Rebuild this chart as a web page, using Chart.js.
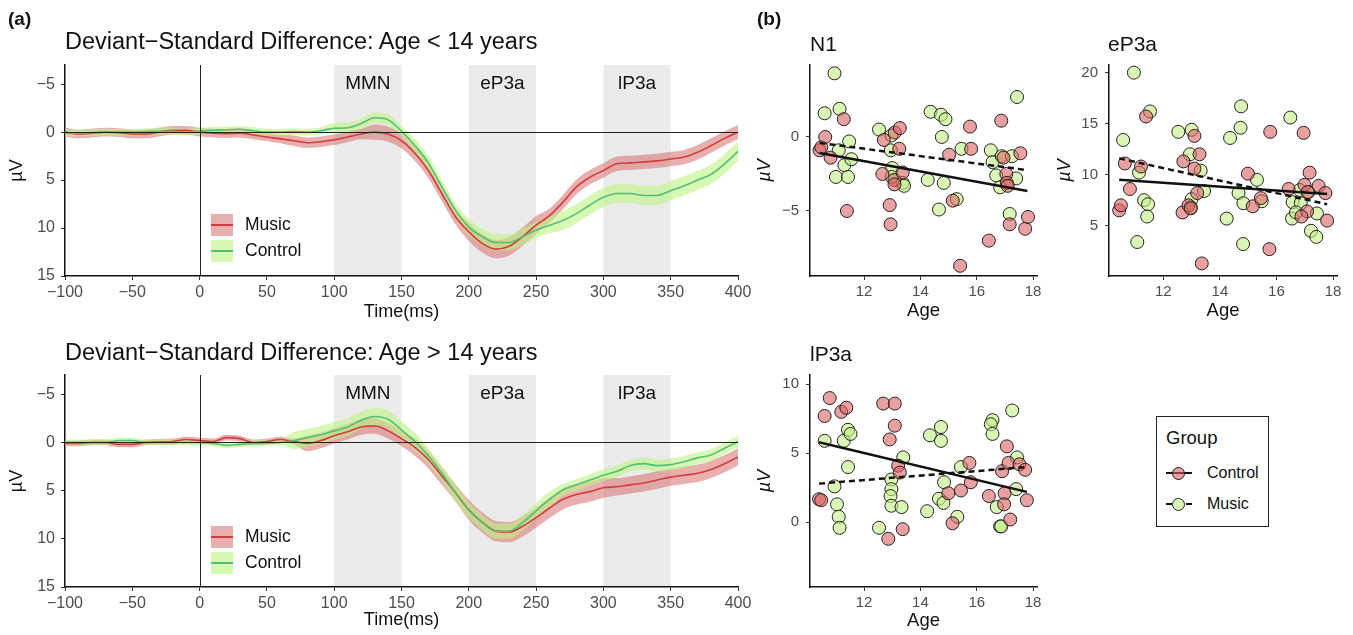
<!DOCTYPE html>
<html>
<head>
<meta charset="utf-8">
<script src="https://cdn.jsdelivr.net/npm/chart.js@4.4.1/dist/chart.umd.min.js"></script>
<style>
  body { margin: 0; background: #fff; font-family: "Liberation Sans", Arial, sans-serif; }
  #wrap { position: relative; width: 1353px; height: 635px; overflow: hidden; }
  canvas { position: absolute; }
  .txt { position: absolute; white-space: nowrap; color: #111; line-height: 1; }
  .key { position: absolute; width: 22px; height: 22px; }
  .key div { position: absolute; left: 0; top: 10px; width: 22px; height: 1.6px; }
  #groupBox { position: absolute; left: 1156px; top: 416px; width: 113px; height: 111px;
              box-sizing: border-box; border: 1.5px solid #222; }
  .gline { position: absolute; width: 26px; height: 0; }
  .gdot { position: absolute; width: 11px; height: 11px; border-radius: 50%; border: 1px solid #222; }
</style>
</head>
<body>
<div id="wrap">
  <canvas id="erpYoung" width="760" height="330" style="left:0;top:0"></canvas>
  <canvas id="erpOld" width="760" height="305" style="left:0;top:330px"></canvas>
  <canvas id="n1" width="304" height="330" style="left:756px;top:0"></canvas>
  <canvas id="ep3a" width="297" height="330" style="left:1056px;top:0"></canvas>
  <canvas id="lp3a" width="304" height="305" style="left:756px;top:330px"></canvas>

  <div class="txt" style="left:8px;top:9px;font-size:19px;font-weight:bold">(a)</div>
  <div class="txt" style="left:757px;top:9px;font-size:19px;font-weight:bold">(b)</div>
  <div class="txt" style="left:65px;top:30px;font-size:23.5px">Deviant&minus;Standard Difference: Age &lt; 14 years</div>
  <div class="txt" style="left:65px;top:341px;font-size:23.5px">Deviant&minus;Standard Difference: Age &gt; 14 years</div>
  <div class="txt" style="left:810px;top:33px;font-size:21px">N1</div>
  <div class="txt" style="left:1108px;top:33px;font-size:21px">eP3a</div>
  <div class="txt" style="left:810px;top:343px;font-size:21px">lP3a</div>

  <div class="key" style="left:211px;top:214px;background:rgba(214,110,110,0.55)"><div style="background:#d23c3c"></div></div>
  <div class="key" style="left:211px;top:240px;background:rgba(190,245,130,0.6)"><div style="background:#4fbf7a"></div></div>
  <div class="txt" style="left:245px;top:216px;font-size:17.5px">Music</div>
  <div class="txt" style="left:245px;top:242px;font-size:17.5px">Control</div>
  <div class="key" style="left:211px;top:526px;background:rgba(214,110,110,0.55)"><div style="background:#d23c3c"></div></div>
  <div class="key" style="left:211px;top:552px;background:rgba(190,245,130,0.6)"><div style="background:#4fbf7a"></div></div>
  <div class="txt" style="left:245px;top:528px;font-size:17.5px">Music</div>
  <div class="txt" style="left:245px;top:554px;font-size:17.5px">Control</div>

  <div id="groupBox">
    <div class="txt" style="left:9px;top:12px;font-size:18.5px">Group</div>
    <div class="gline" style="left:9px;top:55px;border-top:2px solid #111"></div>
    <div class="gdot" style="left:15px;top:50px;background:rgba(217,97,97,0.6)"></div>
    <div class="txt" style="left:50px;top:48px;font-size:16px">Control</div>
    <div class="gline" style="left:9px;top:86px;border-top:2px dashed #111"></div>
    <div class="gdot" style="left:15px;top:81px;background:#dcf6bc"></div>
    <div class="txt" style="left:50px;top:79px;font-size:16px">Music</div>
  </div>
</div>
<script>
// ERP waveforms (µV), sampled every 10 ms
const time = [-100, -90, -80, -70, -60, -50, -40, -30, -20, -10, 0, 10, 20, 30, 40, 50, 60, 70, 80, 90,
  100, 110, 120, 130, 140, 150, 160, 170, 180, 190, 200, 210, 220, 230, 240, 250, 260, 270, 280, 290,
  300, 310, 320, 330, 340, 350, 360, 370, 380, 390, 400];

const musicYoung = [0.0, 0.2, 0.1, 0.0, 0.05, 0.2, 0.2, 0.0, -0.2, -0.2, 0.0, 0.1, 0.15, 0.1, 0.3, 0.5, 0.7, 0.9, 1.1, 1.0,
  0.8, 0.5, 0.2, 0.0, 0.2, 0.9, 2.2, 4.0, 6.4, 8.8, 10.4, 11.6, 12.2, 11.9, 10.9, 9.7, 8.7, 7.3, 5.7, 4.7,
  4.0, 3.3, 3.2, 3.1, 3.0, 2.8, 2.6, 2.1, 1.4, 0.65, 0.0];
const controlYoung = [0.1, 0.1, 0.05, 0.0, 0.0, 0.0, -0.05, -0.1, -0.1, 0.0, -0.1, -0.2, -0.25, -0.3, -0.15, 0.0, 0.0, -0.05, 0.0, -0.15,
  -0.4, -0.45, -0.9, -1.5, -1.3, -0.1, 1.4, 3.2, 5.7, 8.1, 9.9, 10.9, 11.5, 11.5, 10.9, 10.2, 9.7, 9.2, 8.5, 7.6,
  6.8, 6.4, 6.4, 6.6, 6.6, 6.1, 5.6, 5.0, 4.4, 3.3, 2.0];
const musicYoungSe = [0.45, 0.45, 0.45, 0.45, 0.45, 0.45, 0.45, 0.45, 0.45, 0.45, 0.45, 0.45, 0.45, 0.45, 0.45, 0.45, 0.45,
  0.55, 0.55, 0.55, 0.55, 0.55, 0.55, 0.8, 0.8, 0.8, 0.8, 0.8, 0.8, 0.8, 0.95, 0.95, 0.95, 0.95, 0.95, 0.95,
  0.75, 0.75, 0.75, 0.75, 0.75, 0.75, 0.75, 0.75, 0.75, 0.75, 0.75, 0.75, 0.75, 0.75, 0.75];
const controlYoungSe = [0.35, 0.35, 0.35, 0.35, 0.35, 0.35, 0.35, 0.35, 0.35, 0.35, 0.35, 0.35, 0.35, 0.35, 0.35, 0.35, 0.35, 0.35, 0.35, 0.35,
  0.55, 0.55, 0.55, 0.55, 0.55, 0.55, 0.7, 0.7, 0.7, 0.7, 0.85, 0.85, 0.85, 0.85, 0.85, 0.85, 0.85,
  1.0, 1.0, 1.0, 1.0, 1.0, 1.0, 1.0, 1.0, 1.0, 1.0, 1.0, 1.0, 1.0, 1.0];

const musicOld = [0.1, 0.1, 0.0, 0.0, 0.2, 0.2, 0.0, -0.05, -0.1, -0.3, -0.2, -0.1, -0.5, -0.4, 0.0, -0.1, -0.3, -0.1, 0.1, -0.2,
  -0.7, -1.1, -1.6, -1.7, -1.2, -0.4, 0.5, 1.8, 3.5, 5.2, 7.0, 8.3, 9.2, 9.3, 8.7, 7.8, 6.8, 5.9, 5.4, 5.1,
  4.7, 4.6, 4.4, 4.2, 3.9, 3.6, 3.4, 3.2, 2.8, 2.2, 1.5];
const controlOld = [0.0, 0.0, 0.0, 0.0, -0.2, -0.2, 0.0, 0.0, 0.0, 0.0, 0.0, 0.1, 0.3, 0.2, 0.1, 0.05, 0.0, -0.2, -0.5, -0.8,
  -1.2, -1.6, -2.3, -2.7, -2.4, -1.3, -0.1, 1.4, 3.2, 5.2, 7.0, 8.3, 9.2, 9.2, 8.3, 7.1, 5.9, 4.9, 4.4, 3.9,
  3.4, 3.0, 2.4, 2.2, 2.4, 2.3, 2.0, 1.6, 1.3, 0.6, -0.1];
const musicOldSe = [0.3, 0.3, 0.3, 0.3, 0.3, 0.3, 0.3, 0.3, 0.3, 0.3, 0.3, 0.3, 0.3, 0.3, 0.3, 0.3, 0.3, 0.3,
  0.8, 0.8, 0.8, 0.8, 0.8, 0.8, 0.8, 0.8, 0.9, 0.9, 0.9, 0.9,
  1.05, 1.05, 1.05, 1.05, 1.05, 1.05, 1.05, 1.05, 1.05, 1.05, 1.05,
  0.9, 0.9, 0.9, 0.9, 0.9, 0.9, 0.9, 0.9, 0.9, 0.9];
const controlOldSe = [0.3, 0.3, 0.3, 0.3, 0.3, 0.3, 0.3, 0.3, 0.3, 0.3, 0.3, 0.3, 0.3, 0.3, 0.3, 0.3, 0.3,
  0.9, 0.9, 0.9, 0.9, 0.9, 0.9, 0.9, 0.9, 0.9, 0.9, 0.8, 0.8, 0.8, 0.8, 0.8, 0.8, 0.8, 0.8, 0.8, 0.8,
  0.6, 0.6, 0.6, 0.6, 0.6, 0.6, 0.6, 0.6, 0.6, 0.6, 0.6, 0.6, 0.6, 0.6];

// component windows (ms)
const windowStart = [100, 200, 300];
const windowEnd = [150, 250, 350];
const windowLabel = ['MMN', 'eP3a', 'lP3a'];

// (b) amplitude vs age
const n1ControlAge = [10.42, 10.48, 10.62, 10.81, 11.28, 11.39, 12.7, 12.65, 13.09, 13.27, 13.25, 13.08, 13.08, 13.37, 12.91, 12.94,
  15.15, 15.02, 15.8, 15.76, 15.41, 16.43, 16.87, 16.95, 17.05, 17.07, 17.1, 17.17, 17.55, 17.72, 17.82];
const n1ControlVal = [-0.9, -0.7, 0.0, -1.4, 1.2, -5.0, -0.2, -2.5, 0.3, 0.6, -0.8, -2.9, -3.2, -2.4, -4.6, -5.9,
  -4.3, -1.2, -0.8, 0.7, -8.7, -7.0, 1.1, -1.4, -2.5, -3.1, -3.3, -5.9, -1.1, -6.2, -5.4];
const n1MusicAge = [10.95, 10.6, 11.13, 11.1, 11.47, 11.0, 11.3, 11.55, 11.43, 12.53, 12.97, 12.95, 13.0, 12.98, 13.37, 13.42,
  14.26, 14.36, 14.73, 14.89, 14.76, 14.83, 14.66, 15.29, 15.46, 16.5, 16.56, 16.69, 16.89, 16.83, 17.25, 17.4, 17.17, 17.43];
const n1MusicVal = [4.3, 1.6, 1.9, -0.9, -0.3, -2.7, -1.9, -1.5, -2.7, 0.5, 0.1, -0.9, -2.1, -2.7, -3.1, -3.3,
  -2.9, 1.7, 1.5, 1.2, 0.0, -3.1, -4.9, -4.2, -0.8, -0.9, -1.7, -2.6, -1.3, -3.4, -1.3, -2.8, -5.2, 2.7];
const n1FitAge = [10.42, 17.8];
const n1ControlFit = [-1.08, -3.65];
const n1MusicFit = [-0.4, -2.24];

const ep3aControlAge = [10.44, 10.5, 10.64, 10.82, 11.21, 11.39, 12.71, 12.68, 12.89, 12.97, 13.1, 13.1, 13.28, 13.2, 13.36,
  14.99, 15.16, 15.45, 15.78, 15.75, 16.43, 16.96, 16.99, 17.17, 17.08, 16.88, 17.49, 17.73, 17.79, 17.1];
const ep3aControlVal = [6.5, 7.0, 11.1, 8.6, 10.8, 15.7, 11.3, 6.3, 7.0, 6.7, 13.8, 10.6, 12.0, 8.2, 1.3,
  10.1, 6.9, 7.7, 14.2, 2.7, 8.6, 14.1, 9.0, 10.2, 6.4, 5.9, 8.9, 8.2, 5.5, 8.3];
const ep3aMusicAge = [10.96, 10.58, 11.14, 11.08, 11.32, 11.46, 11.43, 11.53, 12.53, 13.0, 12.94, 13.0, 12.97, 13.32, 13.44,
  14.36, 14.24, 14.73, 14.75, 14.66, 14.83, 14.82, 15.31, 15.48, 16.49, 16.57, 16.55, 16.82, 16.86, 17.22, 17.41, 17.43, 17.13, 16.69];
const ep3aMusicVal = [20.0, 13.4, 10.2, 3.4, 7.5, 7.1, 5.9, 16.2, 14.2, 14.4, 12.0, 7.6, 6.8, 10.4, 8.4,
  13.6, 5.7, 14.6, 16.7, 8.2, 7.2, 3.2, 9.5, 7.4, 15.6, 7.3, 5.7, 8.5, 7.2, 4.5, 3.9, 6.2, 8.3, 6.3];
const ep3aFitAge = [10.44, 17.79];
const ep3aControlFit = [9.5, 8.1];
const ep3aMusicFit = [11.6, 7.1];

const lp3aControlAge = [10.4, 10.48, 10.6, 10.78, 11.19, 11.37, 12.68, 13.09, 13.09, 12.91, 12.86, 13.21, 13.27, 13.37,
  14.99, 15.14, 15.44, 15.74, 15.79, 16.43, 16.9, 16.99, 16.97, 17.07, 17.19, 17.13, 17.52, 17.72, 17.78];
const lp3aControlVal = [1.67, 1.6, 7.7, 9.0, 8.0, 8.3, 8.6, 8.6, 7.0, 6.0, -1.2, 4.1, 3.6, -0.5,
  2.1, -0.07, 2.3, 4.3, 2.9, 1.9, 3.7, 2.1, 1.3, 5.5, 0.2, 4.3, 4.2, 3.8, 1.6];
const lp3aMusicAge = [10.6, 10.95, 11.04, 11.1, 11.13, 11.28, 11.43, 11.52, 11.43, 12.53, 12.97, 12.97, 12.94, 12.97, 13.33,
  13.39, 14.24, 14.34, 14.73, 14.73, 14.84, 14.66, 14.82, 15.31, 15.44, 16.56, 16.5, 16.56, 16.71, 16.83, 16.87, 17.26, 17.43, 17.4];
const lp3aMusicVal = [5.9, 2.6, 1.3, 0.4, -0.4, 5.9, 6.7, 6.4, 4.0, -0.4, 3.1, 2.4, 1.9, 1.2, 1.1,
  4.7, 0.8, 6.3, 6.9, 5.9, 2.9, 1.7, 1.4, 0.4, 4.0, 7.4, 7.1, 6.4, 1.1, -0.3, -0.3, 8.1, 4.7, 2.4];
const lp3aFitAge = [10.4, 17.78];
const lp3aControlFit = [5.8, 2.2];
const lp3aMusicFit = [2.8, 4.0];

Chart.defaults.font.family = '"Liberation Sans", Arial, sans-serif';

const MUSIC_LINE = '#d23c3c', MUSIC_BAND = 'rgba(214,110,110,0.55)';
const CONTROL_LINE = '#4fbf7a', CONTROL_BAND = 'rgba(190,245,130,0.6)';
const TICK = '#4d4d4d';

function minusSign(v) {
  return String(v).replace('-', '\u2212');
}

// grey windows, labels and the zero lines
const erpDecor = {
  id: 'erpDecor',
  beforeDatasetsDraw(chart) {
    const { ctx, chartArea: a, scales: { x } } = chart;
    ctx.save();
    ctx.font = '19px "Liberation Sans", Arial, sans-serif';
    ctx.textAlign = 'center';
    ctx.textBaseline = 'middle';
    windowStart.forEach((s, i) => {
      const x0 = x.getPixelForValue(s), x1 = x.getPixelForValue(windowEnd[i]);
      ctx.fillStyle = '#ebebeb';
      ctx.fillRect(x0, a.top, x1 - x0, a.bottom - a.top - 1);
      ctx.fillStyle = '#111';
      ctx.fillText(windowLabel[i], (x0 + x1) / 2, a.top + 19);
    });
    ctx.restore();
  },
  afterDatasetsDraw(chart) {
    const { ctx, chartArea: a, scales: { x, y } } = chart;
    const y0 = Math.round(y.getPixelForValue(0)) + 0.5;
    const x0 = Math.round(x.getPixelForValue(0)) + 0.5;
    ctx.save();
    ctx.strokeStyle = '#222';
    ctx.lineWidth = 1;
    ctx.beginPath();
    ctx.moveTo(a.left, y0); ctx.lineTo(a.right, y0);
    ctx.moveTo(x0, a.top); ctx.lineTo(x0, a.bottom);
    ctx.stroke();
    ctx.restore();
  }
};

function axisStyle(fontSize, pad) {
  return {
    ticks: { color: TICK, font: { size: fontSize }, padding: pad, includeBounds: false },
    grid: { drawOnChartArea: false, drawTicks: true, tickLength: 4, color: '#333' },
    border: { display: true, color: '#111', width: 1.5 }
  };
}

function erpChart(id, music, musicSe, control, controlSe, padTop, axisH, titlePad) {
  const pts = (vals, se, k) => time.map((t, i) => ({ x: t, y: vals[i] + k * se[i] }));
  const xs = axisStyle(16, 3), ys = axisStyle(16, 6);
  new Chart(document.getElementById(id), {
    type: 'line',
    data: {
      datasets: [
        { data: pts(control, controlSe, 0), borderColor: CONTROL_LINE, borderWidth: 1.6 },
        { data: pts(music, musicSe, 0), borderColor: MUSIC_LINE, borderWidth: 1.6 },
        { data: pts(control, controlSe, 1), borderColor: 'transparent', backgroundColor: CONTROL_BAND, fill: '+1' },
        { data: pts(control, controlSe, -1), borderColor: 'transparent' },
        { data: pts(music, musicSe, 1), borderColor: 'transparent', backgroundColor: MUSIC_BAND, fill: '+1' },
        { data: pts(music, musicSe, -1), borderColor: 'transparent' }
      ]
    },
    options: {
      responsive: false,
      animation: false,
      layout: { padding: { top: padTop, right: 22, left: 0, bottom: 0 } },
      elements: { point: { radius: 0 }, line: { cubicInterpolationMode: 'monotone', fill: false } },
      plugins: { legend: { display: false }, tooltip: { enabled: false } },
      scales: {
        x: {
          type: 'linear', min: -100, max: 400,
          ...xs,
          ticks: { ...xs.ticks, stepSize: 50, callback: minusSign },
          title: { display: true, text: 'Time(ms)', color: '#111', font: { size: 18, lineHeight: 1 },
                   padding: { top: 0, bottom: titlePad } },
          afterFit: s => { s.height = axisH; }
        },
        y: {
          type: 'linear', reverse: true, min: -7, max: 15,
          ...ys,
          ticks: { ...ys.ticks, stepSize: 5, callback: minusSign },
          title: { display: true, text: '\u00b5V', color: '#111', font: { size: 18, lineHeight: 1 },
                   padding: { top: 8.5, bottom: 0 } },
          afterFit: s => { s.width = 65; }
        }
      }
    },
    plugins: [erpDecor]
  });
}

function scatterChart(id, c) {
  const pts = (ages, vals) => ages.map((a, i) => ({ x: a, y: vals[i] }));
  const xs = axisStyle(15, 3), ys = axisStyle(15, 7);
  new Chart(document.getElementById(id), {
    type: 'scatter',
    data: {
      datasets: [
        { data: pts(c.fitAge, c.controlFit), showLine: true, pointRadius: 0, borderColor: '#111', borderWidth: 2.5 },
        { data: pts(c.fitAge, c.musicFit), showLine: true, pointRadius: 0, borderColor: '#111', borderWidth: 2.5,
          borderDash: [6, 4] },
        { data: pts(c.controlAge, c.controlVal), pointRadius: 6.5, borderWidth: 1, borderColor: '#222',
          backgroundColor: 'rgba(217,97,97,0.6)' },
        { data: pts(c.musicAge, c.musicVal), pointRadius: 6.5, borderWidth: 1, borderColor: '#222',
          backgroundColor: 'rgba(193,242,132,0.6)' }
      ]
    },
    options: {
      responsive: false,
      animation: false,
      layout: { padding: { top: c.padTop, right: c.padRight, left: 0, bottom: 0 } },
      plugins: { legend: { display: false }, tooltip: { enabled: false } },
      scales: {
        x: {
          type: 'linear', min: 10.08, max: 18.14,
          ...xs,
          ticks: { ...xs.ticks, stepSize: 2 },
          title: { display: true, text: 'Age', color: '#111', font: { size: 18.5, lineHeight: 1 },
                   padding: { top: 0, bottom: c.titlePad } },
          afterFit: s => { s.height = c.axisH; }
        },
        y: {
          type: 'linear', min: c.yMin, max: c.yMax,
          ...ys,
          ticks: { ...ys.ticks, stepSize: c.yStep, callback: minusSign },
          title: { display: true, text: '\u00b5V', color: '#111', font: { size: 18, style: 'italic', lineHeight: 1 },
                   padding: { top: 0, bottom: 0 } },
          afterFit: s => { s.width = c.axisW; }
        }
      }
    }
  });
}

erpChart('erpYoung', musicYoung, musicYoungSe, controlYoung, controlYoungSe, 65, 54, 9);
erpChart('erpOld', musicOld, musicOldSe, controlOld, controlOldSe, 45, 48, 6);

scatterChart('n1', {
  controlAge: n1ControlAge, controlVal: n1ControlVal, musicAge: n1MusicAge, musicVal: n1MusicVal,
  fitAge: n1FitAge, controlFit: n1ControlFit, musicFit: n1MusicFit,
  yMin: -9.39, yMax: 4.86, yStep: 5, padTop: 65, padRight: 23, axisH: 54, axisW: 54, titlePad: 9.5
});
scatterChart('ep3a', {
  controlAge: ep3aControlAge, controlVal: ep3aControlVal, musicAge: ep3aMusicAge, musicVal: ep3aMusicVal,
  fitAge: ep3aFitAge, controlFit: ep3aControlFit, musicFit: ep3aMusicFit,
  yMin: 0.07, yMax: 20.75, yStep: 5, padTop: 65, padRight: 16, axisH: 54, axisW: 53, titlePad: 9.5
});
scatterChart('lp3a', {
  controlAge: lp3aControlAge, controlVal: lp3aControlVal, musicAge: lp3aMusicAge, musicVal: lp3aMusicVal,
  fitAge: lp3aFitAge, controlFit: lp3aControlFit, musicFit: lp3aMusicFit,
  yMin: -4.69, yMax: 10.67, yStep: 5, padTop: 45, padRight: 23, axisH: 48, axisW: 54, titlePad: 4.5
});
</script>
</body>
</html>
